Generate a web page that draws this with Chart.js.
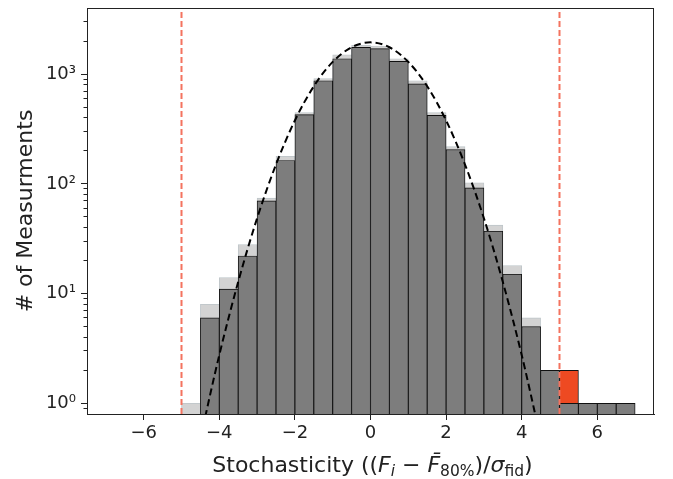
<!DOCTYPE html>
<html><head><meta charset="utf-8">
<script src="https://cdn.jsdelivr.net/npm/chart.js@4.4.1/dist/chart.umd.min.js"></script>
<style>html,body{margin:0;padding:0;background:#fff;}</style>
</head><body>
<canvas id="c" width="673" height="479"></canvas>
<script>
// ---- data ----
const binCenters  = [-4.75,-4.25,-3.75,-3.25,-2.75,-2.25,-1.75,-1.25,-0.75,-0.25,0.25,0.75,1.25,1.75,2.25,2.75,3.25,3.75,4.25,4.75,5.25,5.75,6.25,6.75];
const allCounts   = [1, 8, 14, 28, 74, 178, 447, 909, 1500, 1830, 1800, 1380, 870, 447, 218, 102, 42, 18, 6, 2, 2, 1, 1, 1];
const keptCounts  = [null, 6, 11, 22, 70, 163, 427, 870, 1380, 1750, 1705, 1306, 813, 420, 205, 92, 37, 15, 5, 2, 1, 1, 1, 1];
const outlierBins   = [5.25];
const outlierCounts = [2];
const fitX = [-4.5,-4,-3.5,-3,-2.5,-2,-1.5,-1,-0.5,0,0.5,1,1.5,2,2.5,3,3.5,4,4.5];
const fitY = [0.48,2.76,12.8,48.6,150,378,774,1291,1756,1945,1756,1291,774,378,150,48.6,12.8,2.76,0.48];
const cutLines = [-5, 5];
const xTicks = [-6,-4,-2,0,2,4,6];
const xTickLabels = ['\u22126','\u22124','\u22122','0','2','4','6'];
const yTicks = [1,10,100,1000];
const yTickLabels = ['10\u2070','10\u00b9','10\u00b2','10\u00b3'];
const yMinorTicks = [0.9,2,3,4,5,6,7,8,9,20,30,40,50,60,70,80,90,200,300,400,500,600,700,800,900,2000,3000];
const yTitle = '# of Measurments';
const xTitleParts = [
  {t:'Stochasticity ((', it:false, sub:false},
  {t:'F', it:true, sub:false},
  {t:'i', it:true, sub:true},
  {t:' \u2212 ', it:false, sub:false},
  {t:'F\u0304', it:true, sub:false},
  {t:'80%', it:false, sub:true},
  {t:')/', it:false, sub:false},
  {t:'\u03c3', it:true, sub:false},
  {t:'fid', it:false, sub:true},
  {t:')', it:false, sub:false}
];
const Y_MIN = 0.8, Y_MAX = 4000;

const FONT = 'DejaVu Sans';
const INK = '#222222';

const pts = (xs, ys) => xs.map((x, i) => ({x: x, y: ys[i]}));
const noPad = s => { s.paddingTop = 0; s.paddingBottom = 0; s.paddingLeft = 0; s.paddingRight = 0; };

const frame = {
  id: 'frame',
  afterDraw(chart) {
    const a = chart.chartArea, ctx = chart.ctx;
    ctx.save();
    ctx.strokeStyle = INK; ctx.lineWidth = 1;
    ctx.strokeRect(Math.round(a.left) + 0.5, Math.round(a.top) + 0.5, Math.round(a.right - a.left) - 1, Math.round(a.bottom - a.top));
    ctx.restore();
  }
};

const xTitle = {
  id: 'xTitle',
  afterDraw(chart) {
    const ctx = chart.ctx, a = chart.chartArea;
    const size = 22, subSize = 15.5;
    ctx.save();
    ctx.fillStyle = INK;
    ctx.textBaseline = 'alphabetic';
    const fontOf = p => (p.it ? 'italic ' : '') + (p.sub ? subSize : size) + 'px "' + FONT + '"';
    let total = 0;
    const widths = xTitleParts.map(p => { ctx.font = fontOf(p); const w = ctx.measureText(p.t).width; total += w; return w; });
    let x = (a.left + a.right) / 2 - total / 2 + 2;
    const base = 472;
    xTitleParts.forEach((p, i) => {
      ctx.font = fontOf(p);
      ctx.fillText(p.t, x, p.sub ? base + 4 : base);
      x += widths[i];
    });
    ctx.restore();
  }
};

new Chart(document.getElementById('c'), {
  type: 'bar',
  data: {
    datasets: [
      { type: 'line', data: pts(fitX, fitY), borderColor: '#000', borderWidth: 2, borderDash: [7, 4],
        pointRadius: 0, cubicInterpolationMode: 'monotone', fill: false, order: 0 },
      { type: 'line', data: [{x: cutLines[0], y: Y_MIN}, {x: cutLines[0], y: Y_MAX}], borderColor: '#f4735f',
        borderWidth: 2, borderDash: [6, 3], pointRadius: 0, fill: false, order: 1 },
      { type: 'line', data: [{x: cutLines[1], y: Y_MIN}, {x: cutLines[1], y: Y_MAX}], borderColor: '#f4735f',
        borderWidth: 2, borderDash: [6, 3], pointRadius: 0, fill: false, order: 1 },
      { data: pts(binCenters, keptCounts), backgroundColor: '#7d7d7d', borderColor: '#111', borderWidth: 0.9, order: 2 },
      { data: pts(outlierBins, outlierCounts), backgroundColor: '#ee4a22', borderColor: '#111', borderWidth: 0.9, order: 3 },
      { data: pts(binCenters, allCounts), backgroundColor: '#d3d3d3', borderColor: '#bcc4c8', borderWidth: 0.8, order: 4 }
    ]
  },
  options: {
    responsive: false, animation: false, devicePixelRatio: 1,
    datasets: { bar: { barPercentage: 1, categoryPercentage: 1, grouped: false } },
    layout: { padding: { left: 0, right: 19, top: 8, bottom: 0 } },
    plugins: { legend: { display: false }, tooltip: { enabled: false } },
    scales: {
      x: {
        type: 'linear', min: -7.5, max: 7.5, offset: false, position: 'bottom',
        afterBuildTicks: s => { s.ticks = xTicks.map(v => ({value: v})); },
        afterFit: s => { s.height = 65; noPad(s); },
        ticks: { callback: (v, i) => xTickLabels[i], font: {family: FONT, size: 18}, color: INK, padding: 3, maxRotation: 0, autoSkip: false },
        grid: { offset: false, drawOnChartArea: false, drawTicks: true, tickLength: 6, tickColor: INK, tickWidth: 1 },
        border: { display: true, color: INK }
      },
      y: {
        type: 'logarithmic', min: Y_MIN, max: Y_MAX, position: 'left', weight: 1,
        afterBuildTicks: s => { s.ticks = yTicks.map(v => ({value: v, major: true})); },
        afterFit: s => { s.width = 87; noPad(s); },
        ticks: { callback: (v, i) => yTickLabels[i], font: {family: FONT, size: 18}, color: INK, padding: 5, autoSkip: false },
        grid: { drawOnChartArea: false, drawTicks: true, tickLength: 6, tickColor: INK, tickWidth: 1 },
        border: { display: true, color: INK },
        title: { display: true, text: yTitle, font: {family: FONT, size: 22}, color: INK, padding: {top: 13, bottom: 0} }
      },
      yMinor: {
        type: 'logarithmic', min: Y_MIN, max: Y_MAX, position: 'left', weight: 0,
        afterBuildTicks: s => { s.ticks = yMinorTicks.map(v => ({value: v})); },
        afterFit: s => { s.width = 0; noPad(s); },
        ticks: { display: false },
        grid: { drawOnChartArea: false, drawTicks: true, tickLength: 3.5, tickColor: INK, tickWidth: 1 },
        border: { display: false }
      }
    }
  },
  plugins: [frame, xTitle]
});
</script>
</body></html>
